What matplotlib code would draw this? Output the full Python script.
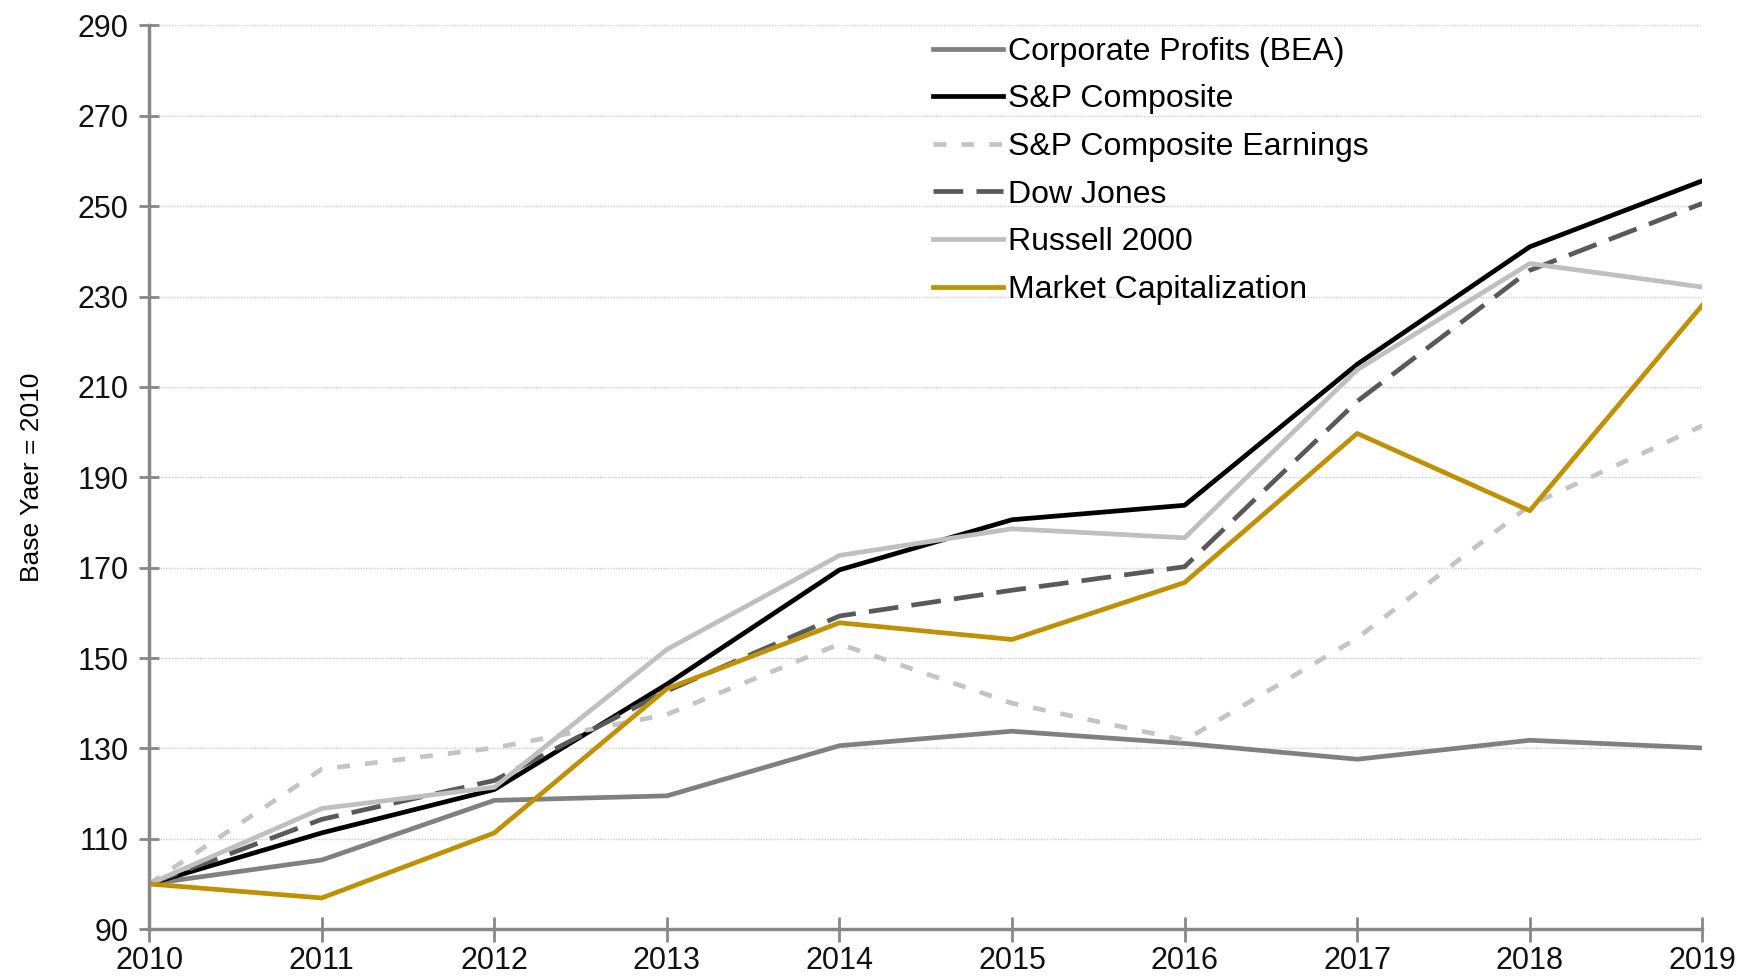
import matplotlib
matplotlib.use("Agg")
from matplotlib import pyplot as plt

years = [2010, 2011, 2012, 2013, 2014, 2015, 2016, 2017, 2018, 2019]

corp_profits = [100, 105.3, 118.5, 119.5, 130.6, 133.8, 131.1, 127.6, 131.8, 130.1]
sp_composite = [100, 111.3, 120.9, 144.2, 169.5, 180.6, 183.8, 215.0, 241.0, 255.6]
sp_earnings = [100, 125.4, 130.1, 137.5, 153.1, 140.0, 131.8, 154.4, 183.8, 201.4]
dow_jones = [100, 114.3, 122.9, 142.7, 159.3, 165.0, 170.2, 206.8, 235.8, 250.6]
russell = [100, 116.7, 121.4, 151.9, 172.7, 178.6, 176.6, 213.8, 237.3, 232.1]
market_cap = [100, 96.9, 111.3, 143.2, 157.8, 154.1, 166.7, 199.7, 182.6, 228.1]

yticks = list(range(90, 291, 20))

plt.rcParams['font.family'] = ['Liberation Sans', 'DejaVu Sans']

fig = plt.figure(figsize=(17.55, 9.76), dpi=100)
ax = fig.add_axes([0.085, 0.048, 0.885, 0.926])

lw = 3.4
ax.plot(years, corp_profits, color="#808080", lw=lw, label="Corporate Profits (BEA)")
ax.plot(years, sp_composite, color="#000000", lw=lw, label="S&P Composite")
ax.plot(years, sp_earnings, color="#c4c4c4", lw=lw, dashes=(2.7, 3.2), label="S&P Composite Earnings")
ax.plot(years, dow_jones, color="#595959", lw=lw, dashes=(6.3, 2.8), label="Dow Jones")
ax.plot(years, russell, color="#bfbfbf", lw=lw, label="Russell 2000")
ax.plot(years, market_cap, color="#bf9000", lw=lw, label="Market Capitalization")

ax.set_xlim(2010, 2019)
ax.set_ylim(90, 290)
ax.set_xticks(years)
ax.set_yticks(yticks)
ax.tick_params(axis="both", labelsize=22, colors="#888888", labelcolor="#111111",
               direction="inout", width=2)
ax.tick_params(axis="x", length=18, pad=3)
ax.tick_params(axis="y", length=14, pad=8)

ax.grid(axis="y", color="#cccccc", linestyle=(0, (1, 1)), linewidth=1)
ax.set_axisbelow(True)
for s in ["top", "right"]:
    ax.spines[s].set_visible(False)
for s in ["left", "bottom"]:
    ax.spines[s].set_color("#888888")
    ax.spines[s].set_linewidth(2.5)

ax.set_ylabel("Base Yaer = 2010", fontsize=19, labelpad=24)

ax.legend(loc="upper left", bbox_to_anchor=(0.49, 1.012), frameon=False, fontsize=23,
          handlelength=2.2, handletextpad=0.15, labelspacing=0.55, borderaxespad=0.3)

fig.savefig("out.png", dpi=100)
